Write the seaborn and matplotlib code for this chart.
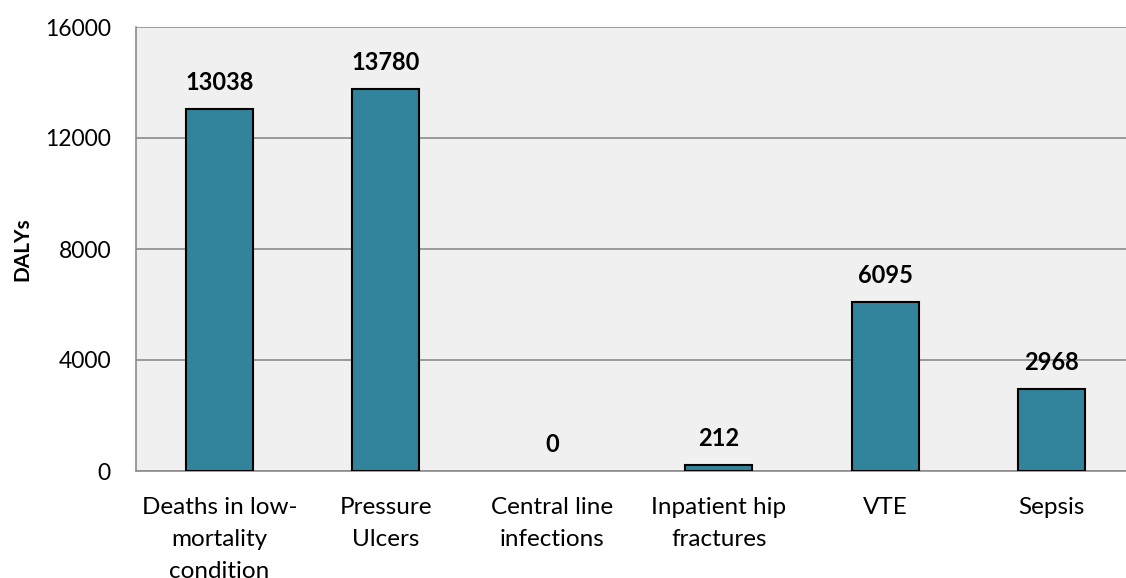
import matplotlib
matplotlib.use("Agg")
import matplotlib.pyplot as plt
import seaborn as sns
import pandas as pd

# chart data
categories = ["Deaths in low-\nmortality\ncondition", "Pressure\nUlcers", "Central line\ninfections",
              "Inpatient hip\nfractures", "VTE", "Sepsis"]
dalys = [13038, 13780, 0, 212, 6095, 2968]
yticks = [0, 4000, 8000, 12000, 16000]

df = pd.DataFrame({"Category": categories, "DALYs": dalys})

sns.set_style("white")
plt.rcParams['font.family'] = ['Lato', 'DejaVu Sans']
plt.rcParams['text.color'] = 'black'
plt.rcParams['xtick.labelcolor'] = 'black'
plt.rcParams['ytick.labelcolor'] = 'black'
plt.rcParams['axes.labelcolor'] = 'black'

fig = plt.figure(figsize=(11.26, 5.78), dpi=100)
W, H = 1126, 578
ax = fig.add_axes([136 / W, (H - 471) / H, 999 / W, 444 / H])
ax.set_facecolor("#F0F0F0")

sns.barplot(data=df, x="Category", y="DALYs", color="#31849B", width=0.4,
            edgecolor="black", linewidth=1.5, saturation=1, ax=ax, zorder=3)
# zero-height bars show no outline
for p in ax.patches:
    if p.get_height() == 0:
        p.set_linewidth(0)

ax.set_ylim(0, 16000)
ax.set_xlim(-0.5, len(categories) - 0.5)
ax.set_yticks(yticks)
ax.set_yticklabels([str(t) for t in yticks], fontsize=16.5)
ax.grid(axis="y", color="#8C8C8C", linewidth=1.2, zorder=0)
ax.set_axisbelow(True)

# category boundary ticks on x axis
ax.set_xticks([i - 0.5 for i in range(len(categories) + 1)], minor=True)
ax.tick_params(axis="x", which="major", length=0, labelsize=17.5, pad=19)
ax.tick_params(axis="x", which="minor", length=8, width=1.2, color="#8C8C8C")
ax.tick_params(axis="y", length=8, width=1.2, color="#8C8C8C", pad=10)
for lbl in ax.get_xticklabels():
    lbl.set_linespacing(1.65)

for s in ["top", "right"]:
    ax.spines[s].set_visible(False)
for s in ["left", "bottom"]:
    ax.spines[s].set_color("#8C8C8C")
    ax.spines[s].set_linewidth(1.2)

ax.set_xlabel("")
ax.set_ylabel("DALYs", fontsize=15, fontweight="bold")
ax.yaxis.set_label_coords(-0.104, 0.5)

for i, v in enumerate(dalys):
    ax.annotate(str(v), (i, v), xytext=(0, 19), textcoords="offset points",
                ha="center", va="center", fontsize=17, fontweight="bold", zorder=4)

fig.savefig("out.png", dpi=100)
